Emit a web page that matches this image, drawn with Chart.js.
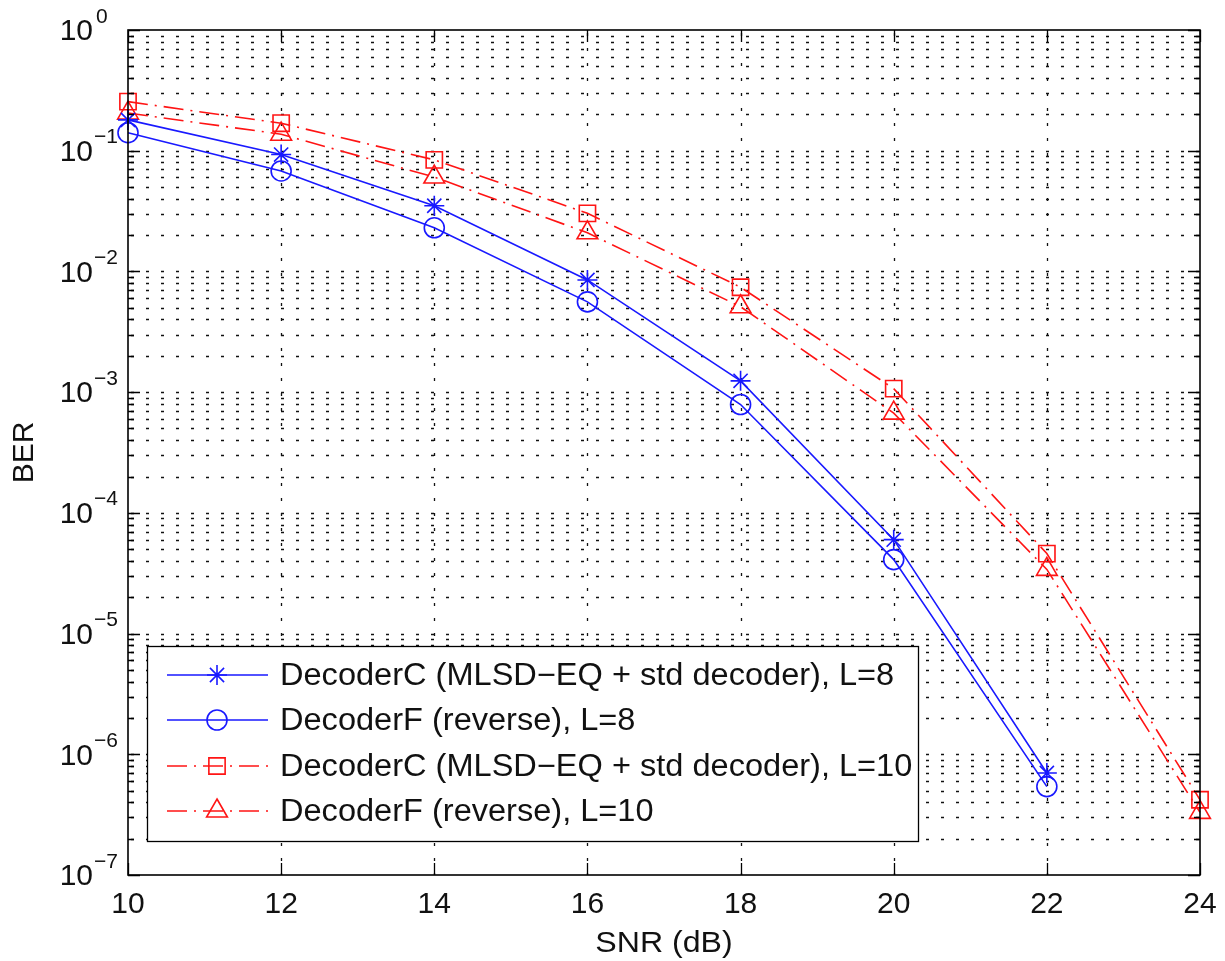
<!DOCTYPE html>
<html>
<head>
<meta charset="utf-8">
<script src="https://cdn.jsdelivr.net/npm/chart.js@4.4.0/dist/chart.umd.min.js"></script>
<style>
  html, body { margin: 0; padding: 0; background: #ffffff; }
  #wrap { width: 1225px; height: 961px; }
</style>
</head>
<body>
<div id="wrap"><canvas id="c" width="1225" height="961"></canvas></div>
<script>
// ---- data ----
const snrL8 = [10, 12, 14, 16, 18, 20, 22];
const snrL10 = [10, 12, 14, 16, 18, 20, 22, 24];
const berDecoderC_L8 = [0.18, 0.093, 0.035, 0.0085, 0.00124, 6.0e-5, 7.0e-7];
const berDecoderF_L8 = [0.141, 0.068, 0.023, 0.0056, 0.00079, 4.1e-5, 5.4e-7];
const berDecoderC_L10 = [0.255, 0.169, 0.084, 0.0303, 0.0074, 0.00107, 4.6e-5, 4.2e-7];
const berDecoderF_L10 = [0.205, 0.137, 0.0605, 0.0209, 0.0051, 0.00067, 3.4e-5, 3.3e-7];
const seriesLabels = [
  'DecoderC (MLSD\u2212EQ + std decoder), L=8',
  'DecoderF (reverse), L=8',
  'DecoderC (MLSD\u2212EQ + std decoder), L=10',
  'DecoderF (reverse), L=10'
];
const xTicks = [10, 12, 14, 16, 18, 20, 22, 24];
const yExponents = [0, -1, -2, -3, -4, -5, -6, -7];
const xTitle = 'SNR (dB)';
const yTitle = 'BER';

const pts = (xs, ys) => xs.map((x, i) => ({x: x, y: ys[i]}));
const BLUE = 'rgb(25,25,255)';
const RED = 'rgb(255,20,20)';
const DASHDOT = [20, 7, 2, 7];
const FONT = '"Liberation Sans", Arial, Helvetica, sans-serif';

const datasets = [
  {label: seriesLabels[0], data: pts(snrL8, berDecoderC_L8), borderColor: BLUE, backgroundColor: 'rgba(0,0,0,0)',
   borderWidth: 1.6, pointStyle: 'star', pointRadius: 10, pointBorderWidth: 1.6, pointBorderColor: BLUE, borderDash: []},
  {label: seriesLabels[1], data: pts(snrL8, berDecoderF_L8), borderColor: BLUE, backgroundColor: 'rgba(0,0,0,0)',
   borderWidth: 1.6, pointStyle: 'circle', pointRadius: 10, pointBorderWidth: 1.6, pointBorderColor: BLUE, borderDash: []},
  {label: seriesLabels[2], data: pts(snrL10, berDecoderC_L10), borderColor: RED, backgroundColor: 'rgba(0,0,0,0)',
   borderWidth: 1.6, pointStyle: 'rect', pointRadius: 11.5, pointBorderWidth: 1.6, pointBorderColor: RED, borderDash: DASHDOT},
  {label: seriesLabels[3], data: pts(snrL10, berDecoderF_L10), borderColor: RED, backgroundColor: 'rgba(0,0,0,0)',
   borderWidth: 1.6, pointStyle: 'triangle', pointRadius: 12, pointBorderWidth: 1.6, pointBorderColor: RED, borderDash: DASHDOT}
];
datasets.forEach(d => { d.clip = false; d.tension = 0; d.fill = false; d.pointBackgroundColor = 'rgba(0,0,0,0)'; d.pointHoverRadius = d.pointRadius; });

function stretchText(ctx, text, x, y, sx) {
  ctx.save();
  ctx.translate(x, y);
  ctx.scale(sx, 1);
  ctx.fillText(text, 0, 0);
  ctx.restore();
}

const matlabPlugin = {
  id: 'matlab',
  beforeDatasetsDraw(chart) {
    const ctx = chart.ctx, a = chart.chartArea, xs = chart.scales.x, ys = chart.scales.y;
    ctx.save();
    ctx.strokeStyle = '#111';
    ctx.lineWidth = 1.3;
    ctx.setLineDash([3, 12]);
    for (const e of yExponents) {
      for (let m = 1; m <= 9; m++) {
        const v = m * Math.pow(10, e);
        if (v > 1.0000001 || v < 1e-7 * 0.999) continue;
        const y = Math.round(ys.getPixelForValue(v)) + 0.5;
        if (y <= a.top + 1 || y >= a.bottom - 1) continue;
        ctx.lineDashOffset = -3;
        ctx.beginPath(); ctx.moveTo(a.left, y); ctx.lineTo(a.right, y); ctx.stroke();
      }
    }
    for (const t of xTicks) {
      const x = Math.round(xs.getPixelForValue(t)) + 0.5;
      if (x <= a.left + 1 || x >= a.right - 1) continue;
      ctx.lineDashOffset = -3;
      ctx.beginPath(); ctx.moveTo(x, a.top); ctx.lineTo(x, a.bottom); ctx.stroke();
    }
    ctx.restore();
  },
  afterDatasetsDraw(chart) {
    const ctx = chart.ctx, a = chart.chartArea, xs = chart.scales.x, ys = chart.scales.y;
    ctx.save();
    ctx.setLineDash([]);
    ctx.strokeStyle = '#000';
    ctx.lineWidth = 1.3;
    for (const e of yExponents) {
      for (let m = 1; m <= 9; m++) {
        const v = m * Math.pow(10, e);
        if (v > 1.0000001 || v < 1e-7 * 0.999) continue;
        const y = Math.round(ys.getPixelForValue(v)) + 0.5;
        const len = (m === 1) ? 12 : 6;
        ctx.beginPath();
        ctx.moveTo(a.left, y); ctx.lineTo(a.left + len, y);
        ctx.moveTo(a.right, y); ctx.lineTo(a.right - len, y);
        ctx.stroke();
      }
    }
    for (const t of xTicks) {
      const x = Math.round(xs.getPixelForValue(t)) + 0.5;
      ctx.beginPath();
      ctx.moveTo(x, a.bottom); ctx.lineTo(x, a.bottom - 12);
      ctx.moveTo(x, a.top); ctx.lineTo(x, a.top + 12);
      ctx.stroke();
    }
    ctx.lineWidth = 1.6;
    ctx.strokeRect(a.left, a.top, a.right - a.left, a.bottom - a.top);

    // tick labels
    ctx.fillStyle = '#111';
    ctx.font = '30px ' + FONT;
    ctx.textAlign = 'center';
    ctx.textBaseline = 'middle';
    for (const t of xTicks) {
      ctx.fillText(String(t), xs.getPixelForValue(t), a.bottom + 30);
    }
    for (const e of yExponents) {
      const y = ys.getPixelForValue(Math.pow(10, e));
      ctx.font = '30px ' + FONT;
      ctx.textAlign = 'right';
      ctx.textBaseline = 'middle';
      ctx.fillText('10', 93, y + 2);
      ctx.font = '21px ' + FONT;
      ctx.textAlign = 'left';
      ctx.textBaseline = 'alphabetic';
      const s = e === 0 ? '0' : '\u2212' + String(-e);
      ctx.fillText(s, e === 0 ? 96 : 94, y - 7.5);
    }
    // axis titles
    ctx.font = '30px ' + FONT;
    ctx.textAlign = 'center';
    ctx.textBaseline = 'middle';
    stretchText(ctx, xTitle, (a.left + a.right) / 2, 944, 1.07);
    ctx.save();
    ctx.translate(25, (a.top + a.bottom) / 2);
    ctx.rotate(-Math.PI / 2);
    ctx.fillText(yTitle, 0, 0);
    ctx.restore();

    // legend
    const L = {x: 147, y: 646, w: 771, h: 195};
    ctx.fillStyle = '#fff';
    ctx.fillRect(L.x, L.y, L.w, L.h);
    ctx.strokeStyle = '#000';
    ctx.lineWidth = 1.3;
    ctx.strokeRect(L.x + 0.5, L.y + 0.5, L.w, L.h);
    const rowY = [675, 720, 766, 811];
    chart.data.datasets.forEach((d, i) => {
      const y = rowY[i];
      ctx.save();
      ctx.strokeStyle = d.borderColor;
      ctx.lineWidth = d.borderWidth;
      ctx.setLineDash(d.borderDash || []);
      ctx.lineDashOffset = 0;
      ctx.beginPath(); ctx.moveTo(167, y); ctx.lineTo(268, y); ctx.stroke();
      ctx.setLineDash([]);
      ctx.lineWidth = d.pointBorderWidth;
      ctx.strokeStyle = d.pointBorderColor;
      ctx.fillStyle = 'rgba(0,0,0,0)';
      Chart.helpers.drawPoint(ctx, {pointStyle: d.pointStyle, radius: d.pointRadius, rotation: 0, borderWidth: d.pointBorderWidth}, 217, y);
      ctx.restore();
      ctx.fillStyle = '#111';
      ctx.font = '31px ' + FONT;
      ctx.textAlign = 'left';
      ctx.textBaseline = 'middle';
      stretchText(ctx, d.label, 280, y + 1, 1.05);
    });
    ctx.restore();
  }
};

new Chart(document.getElementById('c'), {
  type: 'line',
  data: {datasets: datasets},
  options: {
    responsive: false,
    animation: false,
    events: [],
    layout: {padding: {left: 128, right: 25, top: 30, bottom: 86}},
    plugins: {legend: {display: false}, tooltip: {enabled: false}, title: {display: false}},
    scales: {
      x: {type: 'linear', min: 10, max: 24, display: false},
      y: {type: 'logarithmic', min: 1e-7, max: 1, display: false}
    }
  },
  plugins: [matlabPlugin]
});
</script>
</body>
</html>
